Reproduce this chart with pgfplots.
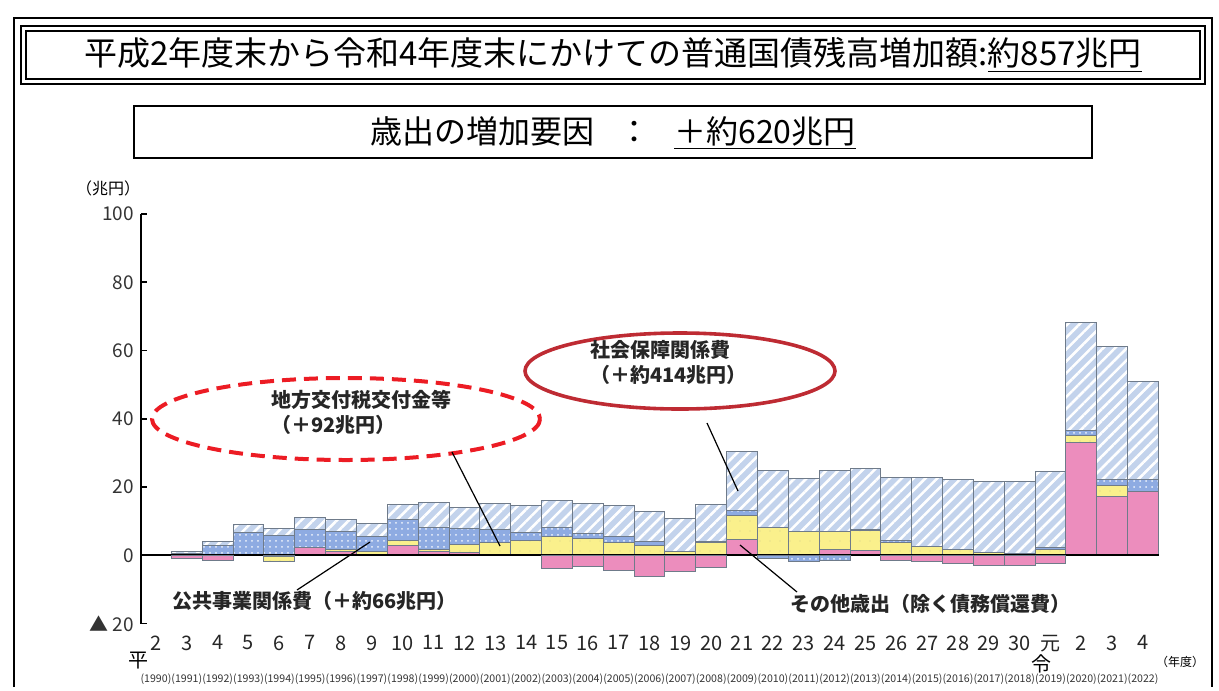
\documentclass[border=0pt]{standalone}
\usepackage{fontspec}
\setmainfont{Noto Sans CJK JP}
\usepackage{pgfplots}
\usepackage{pgfplotstable}
\pgfplotsset{compat=1.18}
\usetikzlibrary{patterns.meta}

\definecolor{hatchblue}{HTML}{C3D3EC}
\definecolor{dotblue}{HTML}{8EABE2}
\definecolor{yel}{HTML}{FAF08C}
\definecolor{pnk}{HTML}{EC8DBD}
\definecolor{edge}{HTML}{6F7B8A}
\definecolor{dashred}{HTML}{EC1C24}
\definecolor{ringred}{HTML}{BE2B33}

% Increase over the FY1990 level (trillion yen), split by item.
% pk: other expenditure, ye: local allocation tax grants,
% bl: public works, ha: social security; *n columns hold the negative parts.
\pgfplotstableread{
i  pk    ye   bl   ha    pkn   yen   bln
1  0.0   0.0  0.5  0.5   -1.0  0.0   0.0
2  0.0   0.0  2.9  1.2   -1.6  0.0   0.0
3  0.0   0.0  6.7  2.2    0.0  0.0   0.0
4  0.0   0.0  5.8  2.1   -0.4 -1.4   0.0
5  2.2   0.0  5.3  3.5    0.0  0.0   0.0
6  1.0   0.6  5.5  3.4    0.0  0.0   0.0
7  0.2   0.9  4.4  3.8    0.0  0.0   0.0
8  2.9   1.4  6.3  4.3    0.0  0.0   0.0
9  1.0   0.7  6.3  7.5    0.0  0.0   0.0
10 0.9   2.2  4.7  6.1    0.0  0.0   0.0
11 0.0   3.8  3.7  7.8    0.0  0.0   0.0
12 0.0   4.4  2.4  7.9    0.0  0.0   0.0
13 0.0   5.6  2.4  8.1   -3.8  0.0   0.0
14 0.0   5.0  1.5  8.8   -3.2  0.0   0.0
15 0.0   3.8  1.6  9.1   -4.4  0.0   0.0
16 0.0   2.9  1.0  8.9   -6.2  0.0   0.0
17 0.0   1.0  0.2  9.7   -4.9  0.0   0.0
18 0.0   3.7  0.2  11.0  -3.7  0.0   0.0
19 4.7   7.0  1.5  17.3   0.0  0.0   0.0
20 0.0   8.1  0.0  16.8   0.0  0.0  -0.9
21 0.0   6.9  0.0  15.7   0.0  0.0  -1.8
22 1.8   5.3  0.0  17.8   0.0  0.0  -1.4
23 1.3   6.0  0.3  17.8   0.0  0.0   0.0
24 0.0   3.7  0.5  18.5  -1.4  0.0   0.0
25 0.0   2.6  0.1  20.0  -1.8  0.0   0.0
26 0.0   1.6  0.0  20.6  -2.3  0.0   0.0
27 0.0   0.7  0.0  21.0  -3.1  0.0   0.0
28 0.0   0.5  0.0  21.2  -3.1  0.0   0.0
29 0.0   1.8  0.6  22.1  -2.3  0.0   0.0
30 33.0  2.0  1.5  31.6   0.0  0.0   0.0
31 17.3  3.1  1.7  39.2   0.0  0.0   0.0
32 18.7  0.0  3.4  28.8   0.0  0.0   0.0
}\debttable

\pgfplotsset{
  base/.style={
    at={(70.5pt,-311.75pt)}, anchor=south west,
    scale only axis, width=508.75pt, height=204.75pt,
    xmin=-0.486, xmax=32.5, ymin=-20, ymax=100,
    ybar stacked, bar width=15.42pt, clip=false,
  },
  pinkbar/.style={draw=edge, line width=0.5pt, fill=pnk},
  yelbar/.style={draw=edge, line width=0.5pt, preaction={fill=yel},
    pattern={Dots[distance=5pt,radius=0.35pt]}, pattern color=yel!70!gray},
  dotbar/.style={draw=edge, line width=0.5pt, preaction={fill=dotblue},
    pattern={Dots[distance=3pt,radius=0.5pt]}, pattern color=white!85!dotblue},
  hatchbar/.style={draw=edge, line width=0.5pt, preaction={fill=hatchblue},
    pattern={Lines[angle=45,distance=4.2pt,line width=1.3pt]}, pattern color=white},
}

\begin{document}
\begin{tikzpicture}
\begin{scope}[x=0.5pt,y=-0.5pt]
  \path[use as bounding box] (0,0) rectangle (1219,687);
  % page frame
  \draw[line width=0.6pt] (14,687) -- (14,18) -- (1212,18) -- (1212,687);
  % main heading
  \draw[line width=1.1pt] (21,26) rectangle (1205,84);
  \draw[line width=0.6pt] (26,31) rectangle (1200,79);
  \node at (613,55) {\fontsize{16.5}{18}\selectfont 平成2年度末から令和4年度末にかけての普通国債残高増加額:\underline{約857兆円}};
  % sub heading
  \draw[line width=0.7pt] (134,106) rectangle (1092,158);
  \node at (613,133) {\fontsize{16}{18}\selectfont 歳出の増加要因\hspace{0.75em}：\hspace{0.75em}\underline{＋約620兆円}};
  % unit labels
  \node[font=\fontsize{8}{9}\selectfont] at (108,188) {（兆円）};
  \node[font=\fontsize{6}{7}\selectfont] at (1180,662) {（年度）};
  \node[font=\fontsize{10}{11}\selectfont] at (138,661) {平};
  \node[font=\fontsize{10}{11}\selectfont] at (1041,664) {令};
\end{scope}

% positive parts
\begin{axis}[base,
  axis lines*=left,
  x axis line style={draw=none},
  xtick style={draw=none},
  y axis line style={line width=0.8pt},
  ytick style={line width=0.8pt, black},
  ytick align=inside, major tick length=3pt,
  ytick={-20,0,20,40,60,80,100},
  yticklabels={▲ 20,0,20,40,60,80,100},
  yticklabel style={font=\fontsize{9.5}{10}\selectfont, text=black!80},
  xtick={0,...,32},
  xticklabels={2,3,4,5,6,7,8,9,10,11,12,13,14,15,16,17,18,19,20,21,22,23,24,25,26,27,28,29,30,元,2,3,4},
  xticklabel style={font=\fontsize{10}{11}\selectfont, text=black!85, yshift=-2.5pt},
  extra x ticks={0,...,32},
  extra x tick labels={(1990),(1991),(1992),(1993),(1994),(1995),(1996),(1997),(1998),(1999),(2000),(2001),(2002),(2003),(2004),(2005),(2006),(2007),(2008),(2009),(2010),(2011),(2012),(2013),(2014),(2015),(2016),(2017),(2018),(2019),(2020),(2021),(2022)},
  extra x tick style={xticklabel style={font=\fontsize{5.3}{6}\selectfont, text=black!80, yshift=-19pt}},
  /pgf/number format/assume math mode=true,
]
  \addplot[pinkbar]  table[x=i, y=pk] {\debttable};
  \addplot[yelbar]   table[x=i, y=ye] {\debttable};
  \addplot[dotbar]   table[x=i, y=bl] {\debttable};
  \addplot[hatchbar] table[x=i, y=ha] {\debttable};
\end{axis}

% negative parts
\begin{axis}[base, hide axis]
  \addplot[pinkbar] table[x=i, y=pkn] {\debttable};
  \addplot[yelbar]  table[x=i, y=yen] {\debttable};
  \addplot[dotbar]  table[x=i, y=bln] {\debttable};
  \draw[line width=1pt] (axis cs:-0.486,0) -- (axis cs:32.5,0);
\end{axis}

\begin{scope}[x=0.5pt,y=-0.5pt]
  % call-outs
  \draw[dashred, line width=2pt, dash pattern=on 7pt off 4pt] (346,419) ellipse [x radius=194, y radius=41];
  \draw[ringred, line width=1.8pt] (680,371) ellipse [x radius=155, y radius=38];
  \begin{scope}[every node/.style={anchor=west, inner sep=0pt, font=\fontsize{10}{12}\selectfont\bfseries, text=black!85}]
    \node at (271,400) {地方交付税交付金等};
    \node at (271,425) {（＋92兆円）};
    \node at (590,350) {社会保障関係費};
    \node at (590,375) {（＋約414兆円）};
    \node at (172,601) {公共事業関係費（＋約66兆円）};
    \node at (790,604) {その他歳出（除く債務償還費）};
  \end{scope}
  \draw[line width=0.6pt] (452,452) -- (500,546);
  \draw[line width=0.6pt] (707,423) -- (738,491);
  \draw[line width=0.6pt] (297,590) -- (370,542);
  \draw[line width=0.6pt] (740,545) -- (797,592);
\end{scope}
\end{tikzpicture}
\end{document}
